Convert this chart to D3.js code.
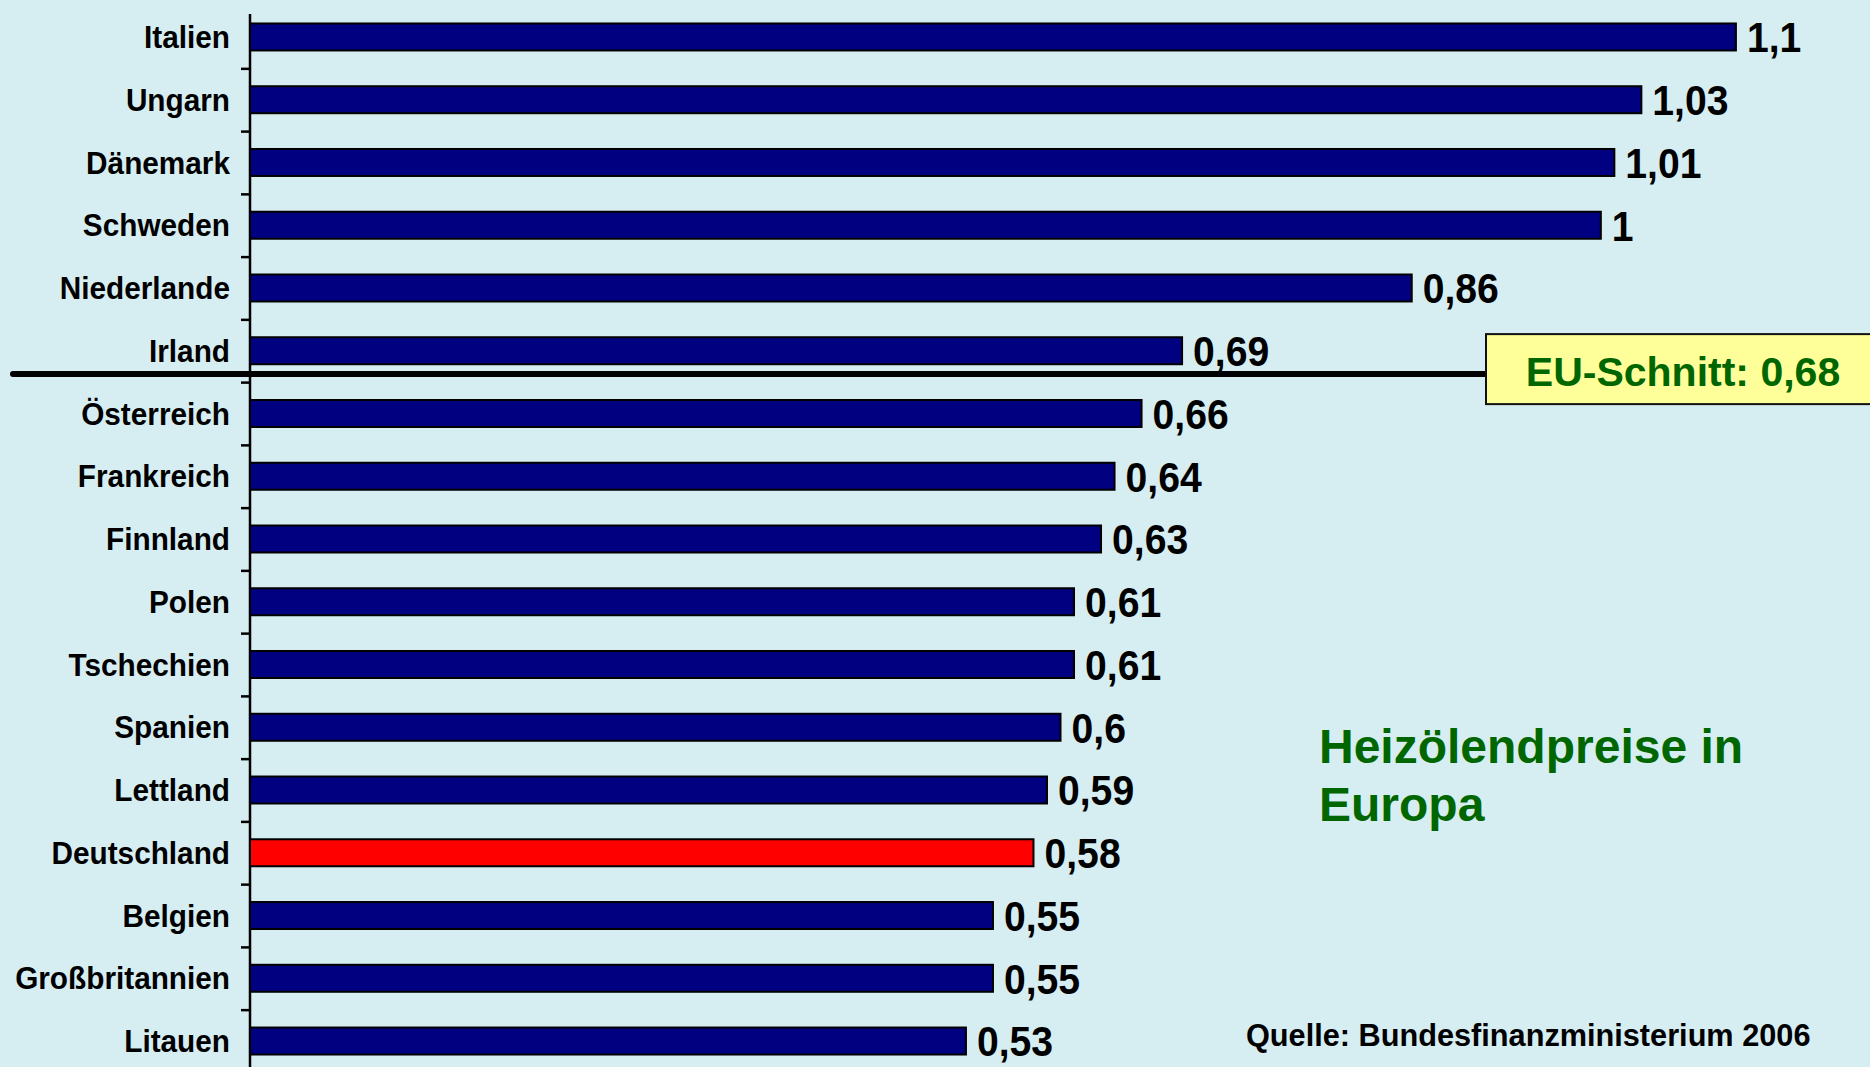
<!DOCTYPE html>
<html>
<head>
<meta http-equiv="Content-Type" content="text/html; charset=UTF-8">
<style>
  body { margin: 0; background: #d6eef2; }
  svg { display: block; }
  text { font-family: "Liberation Sans", Arial, sans-serif; font-weight: bold; }
</style>
</head>
<body>
<svg width="1870" height="1067"></svg>
<script src="https://cdn.jsdelivr.net/npm/d3@7/dist/d3.min.js"></script>
<script>

var countries = ["Italien", "Ungarn", "Dänemark", "Schweden", "Niederlande", "Irland",
    "Österreich", "Frankreich", "Finnland", "Polen", "Tschechien", "Spanien",
    "Lettland", "Deutschland", "Belgien", "Großbritannien", "Litauen"];
var prices = [1.1, 1.03, 1.01, 1, 0.86, 0.69, 0.66, 0.64, 0.63, 0.61, 0.61, 0.6,
    0.59, 0.58, 0.55, 0.55, 0.53];
var highlight = "Deutschland";
var euAverage = 0.68;
var euLabel = "EU-Schnitt: 0,68";
var titleLines = ["Heizölendpreise in", "Europa"];
var source = "Quelle: Bundesfinanzministerium 2006";

var svg = d3.select("svg"),
    width = +svg.attr("width"),
    height = +svg.attr("height");

var fmt = function(v) { return String(v).replace(".", ","); };

var x = d3.scaleLinear().domain([0, 1.2]).range([250, 1871]);

var y = d3.scaleBand()
    .domain(countries)
    .range([5.6, 1072.4])
    .paddingInner(0.57)
    .paddingOuter(0.285);

// edges between the categories, for the tick marks
var yEdge = d3.scaleLinear().domain([0, countries.length]).range(y.range());
var yMid = function(d) { return y(d) + y.bandwidth() / 2; };

svg.append("rect")
    .attr("width", width)
    .attr("height", height)
    .attr("fill", "#d6eef2");

var g = svg.append("g");

var axis = g.append("g")
    .call(d3.axisLeft(yEdge)
        .tickValues(d3.range(1, countries.length))
        .tickSize(9)
        .tickFormat(""))
    .attr("transform", "translate(" + x(0) + ",0)");
axis.select(".domain").remove();
axis.selectAll("line").attr("stroke", "#000").attr("stroke-width", 2.5);

g.append("line")
    .attr("x1", x(0)).attr("x2", x(0))
    .attr("y1", 14).attr("y2", height)
    .attr("stroke", "#000")
    .attr("stroke-width", 2.5);

g.selectAll(".bar")
    .data(countries)
    .enter().append("rect")
      .attr("class", "bar")
      .attr("x", x(0))
      .attr("y", function(d) { return y(d); })
      .attr("width", function(d, i) { return x(prices[i]) - x(0); })
      .attr("height", y.bandwidth())
      .attr("fill", function(d) { return d === highlight ? "#ff0000" : "#000080"; })
      .attr("stroke", "#000")
      .attr("stroke-width", 2);

// the slide text is slightly squeezed horizontally
g.selectAll(".cat")
    .data(countries)
    .enter().append("text")
      .attr("class", "cat")
      .attr("transform", function(d) {
        return "translate(" + (x(0) - 20) + "," + yMid(d) + ") scale(0.96,1)";
      })
      .attr("dy", "0.358em")
      .style("font-size", "31px")
      .style("text-anchor", "end")
      .text(function(d) { return d; });

g.selectAll(".val")
    .data(countries)
    .enter().append("text")
      .attr("class", "val")
      .attr("transform", function(d, i) {
        return "translate(" + (x(prices[i]) + 11) + "," + yMid(d) + ") scale(0.91,1)";
      })
      .attr("dy", "0.358em")
      .style("font-size", "43px")
      .text(function(d, i) { return fmt(prices[i]); });

// EU average separator between the countries above and below it
var above = countries.filter(function(d, i) { return prices[i] > euAverage; });
var sepY = yEdge(above.length) - 8;

g.append("line")
    .attr("x1", 13).attr("x2", 1500)
    .attr("y1", sepY).attr("y2", sepY)
    .attr("stroke", "#000")
    .attr("stroke-width", 6)
    .attr("stroke-linecap", "round");

g.append("rect")
    .attr("x", 1486)
    .attr("y", sepY - 40)
    .attr("width", 400)
    .attr("height", 70)
    .attr("fill", "#ffff99")
    .attr("stroke", "#111")
    .attr("stroke-width", 2);

g.append("text")
    .attr("x", 1683)
    .attr("y", sepY + 12)
    .style("font-size", "41px")
    .style("text-anchor", "middle")
    .attr("fill", "#006600")
    .text(euLabel);

g.selectAll(".title")
    .data(titleLines)
    .enter().append("text")
      .attr("class", "title")
      .attr("x", 1319)
      .attr("y", function(d, i) { return 763 + i * 58; })
      .style("font-size", "48px")
      .attr("fill", "#006600")
      .text(function(d) { return d; });

g.append("text")
    .attr("x", 1246)
    .attr("y", 1046)
    .style("font-size", "30.7px")
    .attr("fill", "#000")
    .text(source);

</script>
</body></html>
